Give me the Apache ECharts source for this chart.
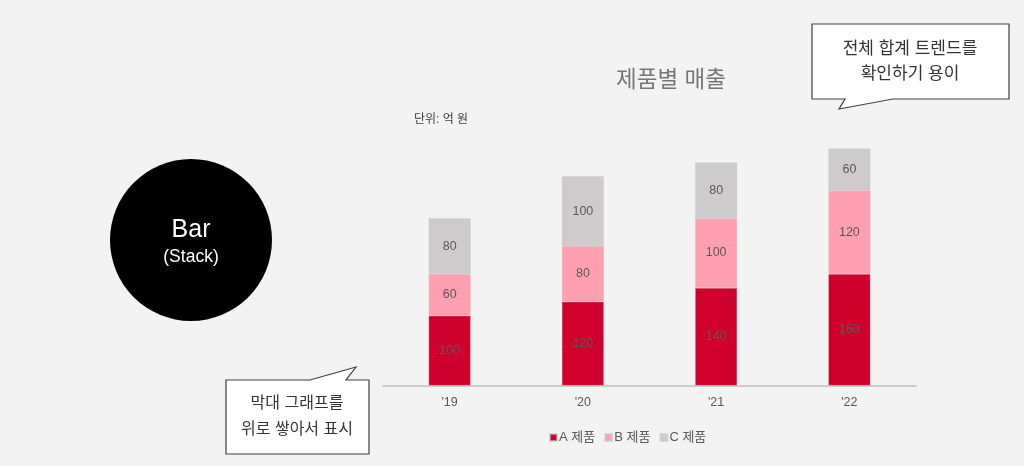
<!DOCTYPE html>
<html>
<head>
<meta charset="utf-8">
<script src="https://cdn.jsdelivr.net/npm/echarts@6/dist/echarts.min.js"></script>
<style>
  html, body { margin: 0; padding: 0; background: #f3f3f3; }
  #chart { width: 1024px; height: 466px; }
</style>
</head>
<body>
<div id="chart"></div>
<script>
// 데이터
const years = ["'19", "'20", "'21", "'22"];
const productA = [100, 120, 140, 160];
const productB = [60, 80, 100, 120];
const productC = [80, 100, 80, 60];
const seriesNames = ['A 제품', 'B 제품', 'C 제품'];

const FONT = '"Liberation Sans", "Noto Sans CJK KR", sans-serif';
const colors = ['#cf002c', '#ff9fb0', '#cdcbcb'];

const chart = echarts.init(document.getElementById('chart'));

// 말풍선 (callout) 외곽선
const callout = (pts) => ({
  type: 'polygon',
  z: 100,
  shape: { points: pts },
  style: { fill: '#ffffff', stroke: '#404040', lineWidth: 1.2 },
});

const makeSeries = (name, values, color) => ({
  name,
  type: 'bar',
  stack: 'total',
  barWidth: 42,
  data: values,
  itemStyle: { color, borderColor: 'rgba(200,200,200,0.6)', borderWidth: 0.5 },
  label: {
    show: true,
    position: 'inside',
    color: '#595959',
    fontFamily: FONT,
    fontSize: 12.5,
  },
});

const option = {
  backgroundColor: '#f3f3f3',
  animation: false,
  textStyle: { fontFamily: FONT },
  title: {
    text: '제품별 매출',
    left: 666,
    top: 65,
    textAlign: 'center',
    textStyle: { fontFamily: FONT, fontSize: 22.5, fontWeight: 'normal', color: '#767676' },
  },
  legend: {
    data: seriesNames,
    left: 544,
    top: 426,
    itemWidth: 7,
    itemHeight: 7,
    itemGap: 9,
    icon: 'rect',
    textStyle: { fontFamily: FONT, fontSize: 13, color: '#595959', padding: [0, 0, 0, -3] },
  },
  grid: { left: 383, right: 108, top: 141.5, bottom: 80.5 },
  xAxis: {
    type: 'category',
    data: years,
    axisLine: { lineStyle: { color: '#bfbfbf', width: 1.5 } },
    axisTick: { show: false },
    axisLabel: { color: '#595959', fontSize: 12.5, fontFamily: FONT, margin: 11 },
  },
  yAxis: {
    type: 'value',
    min: 0,
    max: 350,
    show: false,
    splitLine: { show: false },
  },
  series: [
    makeSeries(seriesNames[0], productA, colors[0]),
    makeSeries(seriesNames[1], productB, colors[1]),
    makeSeries(seriesNames[2], productC, colors[2]),
  ],
  graphic: [
    // 단위 표시
    {
      type: 'text', left: 414, top: 114,
      style: { text: '단위: 억 원', fill: '#404040', font: '12px ' + FONT },
    },
    // 왼쪽 원
    {
      type: 'circle',
      shape: { cx: 191, cy: 240, r: 81 },
      style: { fill: '#000000' },
    },
    {
      type: 'text', x: 191, y: 230,
      style: { text: 'Bar', fill: '#ffffff', font: '25px ' + FONT, align: 'center', verticalAlign: 'middle' },
    },
    {
      type: 'text', x: 191, y: 257,
      style: { text: '(Stack)', fill: '#ffffff', font: '17.5px ' + FONT, align: 'center', verticalAlign: 'middle' },
    },
    // 오른쪽 위 말풍선
    callout([[812, 24], [1009, 24], [1009, 99], [893, 99], [839, 109], [845, 99], [812, 99]]),
    {
      type: 'text', x: 910, y: 49, z: 101,
      style: { text: '전체 합계 트렌드를', fill: '#333333', font: '17px ' + FONT, align: 'center', verticalAlign: 'middle' },
    },
    {
      type: 'text', x: 910, y: 74, z: 101,
      style: { text: '확인하기 용이', fill: '#333333', font: '17px ' + FONT, align: 'center', verticalAlign: 'middle' },
    },
    // 왼쪽 아래 말풍선
    callout([[226, 380], [310, 380], [356, 367], [346, 380], [369, 380], [369, 454], [226, 454]]),
    {
      type: 'text', x: 297, y: 404, z: 101,
      style: { text: '막대 그래프를', fill: '#333333', font: '16px ' + FONT, align: 'center', verticalAlign: 'middle' },
    },
    {
      type: 'text', x: 297, y: 430, z: 101,
      style: { text: '위로 쌓아서 표시', fill: '#333333', font: '16px ' + FONT, align: 'center', verticalAlign: 'middle' },
    },
  ],
};

chart.setOption(option);
</script>
</body>
</html>
